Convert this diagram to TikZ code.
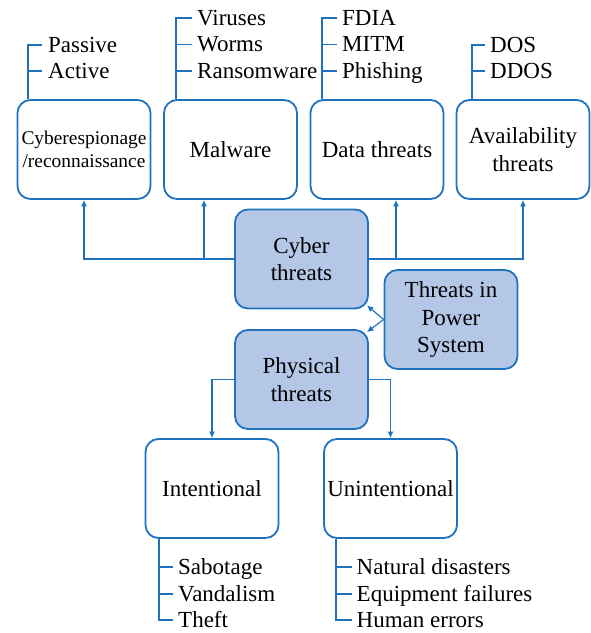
\documentclass[tikz,border=0pt]{standalone}
\usepackage{fontspec}
\setmainfont{Liberation Serif}
\newfontfamily\timesfont{Liberation Serif}
\usetikzlibrary{arrows.meta}
\definecolor{lineblue}{RGB}{31,115,190}
\definecolor{fillblue}{RGB}{180,199,231}
\begin{document}
\begin{tikzpicture}[x=1pt,y=-1pt,%
  box/.style={draw=lineblue,line width=1.8pt,rounded corners=13pt,minimum width=133pt,minimum height=99pt,align=center,inner sep=2pt,font=\timesfont\fontsize{23}{27.5}\selectfont},%
  mainbox/.style={box,fill=fillblue},%
  item/.style={anchor=west,inner sep=0pt,text height=17pt,text depth=3pt,font=\timesfont\fontsize{23}{27}\selectfont},%
  branch/.style={draw=lineblue,line width=1.8pt},%
  link/.style={draw=lineblue,line width=1.2pt,-{Latex[length=6.5pt,width=6pt]}}]%
\useasboundingbox (0,0) rectangle (591,633);%
%
\node[box,font=\timesfont\fontsize{19.4}{23}\selectfont] (cesp) at (84,149.5) {Cyberespionage\\/reconnaissance};%
\node[box] (malw) at (230.5,149.5) {Malware};%
\node[box] (data) at (377,149.5) {Data threats};%
\node[box] (avail) at (523,149.5) {Availability\\threats};%
\node[mainbox] (cyber) at (301.5,259) {Cyber\\threats};%
\node[mainbox] (tps) at (451,319.5) {Threats in\\Power\\System};%
\node[mainbox] (phys) at (301.5,379.5) {Physical\\threats};%
\node[box] (inten) at (212,488.5) {Intentional};%
\node[box] (uninten) at (390.5,488.5) {Unintentional};%
%
\draw[link] (cyber.west) -| (cesp.south);%
\draw[link] (cyber.west) -| ([xshift=-26.5pt]malw.south);%
\draw[link] (cyber.east) -| ([xshift=19pt]data.south);%
\draw[link] (cyber.east) -| (avail.south);%
\draw[link] (tps.west) -- ([shift={(-2pt,4pt)}]cyber.south east);%
\draw[link] (tps.west) -- ([shift={(-2pt,-3pt)}]phys.north east);%
\draw[link] (phys.west) -| (inten.north);%
\draw[link] (phys.east) -| (uninten.north);%
%
% lists above the boxes
\node[item] (passive) at (48,45) {Passive};%
\node[item] (active) at (48,71) {Active};%
\draw[branch] ([xshift=11pt]cesp.north west) |- ([xshift=-6pt]passive.west);%
\draw[branch] ([xshift=11pt]cesp.north west) |- ([xshift=-6pt]active.west);%
%
\node[item] (virus) at (197,18) {Viruses};%
\node[item] (worm) at (197,44.5) {Worms};%
\node[item] (ransom) at (197,71) {Ransomware};%
\draw[branch] ([xshift=13pt]malw.north west) |- ([xshift=-5pt]virus.west);%
\draw[branch] ([xshift=13pt]malw.north west) |- ([xshift=-5pt]worm.west);%
\draw[branch] ([xshift=13pt]malw.north west) |- ([xshift=-5pt]ransom.west);%
%
\node[item] (fdia) at (342,18) {FDIA};%
\node[item] (mitm) at (342,44.5) {MITM};%
\node[item] (phish) at (342,71) {Phishing};%
\draw[branch] ([xshift=12pt]data.north west) |- ([xshift=-5pt]fdia.west);%
\draw[branch] ([xshift=12pt]data.north west) |- ([xshift=-5pt]mitm.west);%
\draw[branch] ([xshift=12pt]data.north west) |- ([xshift=-5pt]phish.west);%
%
\node[item] (dos) at (490,45) {DOS};%
\node[item] (ddos) at (490,71) {DDOS};%
\draw[branch] ([xshift=16pt]avail.north west) |- ([xshift=-5pt]dos.west);%
\draw[branch] ([xshift=16pt]avail.north west) |- ([xshift=-5pt]ddos.west);%
%
% lists below the boxes
\node[item] (sabot) at (178,567) {Sabotage};%
\node[item] (vandal) at (178,594) {Vandalism};%
\node[item] (theft) at (178,620) {Theft};%
\draw[branch] ([xshift=14pt]inten.south west) |- ([xshift=-5pt]sabot.west);%
\draw[branch] ([xshift=14pt]inten.south west) |- ([xshift=-5pt]vandal.west);%
\draw[branch] ([xshift=14pt]inten.south west) |- ([xshift=-5pt]theft.west);%
%
\node[item] (natural) at (356.5,567) {Natural disasters};%
\node[item] (equip) at (356.5,594) {Equipment failures};%
\node[item] (human) at (356.5,620) {Human errors};%
\draw[branch] ([xshift=13pt]uninten.south west) |- ([xshift=-5pt]natural.west);%
\draw[branch] ([xshift=13pt]uninten.south west) |- ([xshift=-5pt]equip.west);%
\draw[branch] ([xshift=13pt]uninten.south west) |- ([xshift=-5pt]human.west);%
%
\end{tikzpicture}
\end{document}
